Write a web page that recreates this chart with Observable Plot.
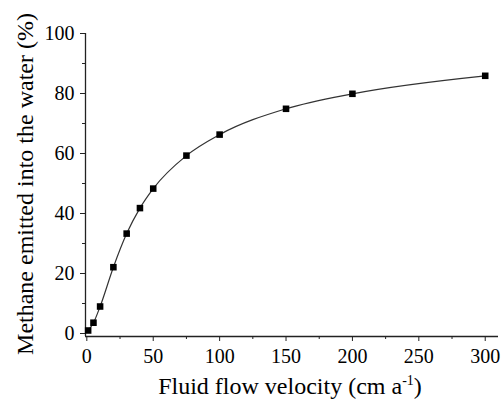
<!DOCTYPE html>
<html>
<head>
<meta charset="utf-8">
<script src="https://cdn.jsdelivr.net/npm/d3@7"></script>
<script src="https://cdn.jsdelivr.net/npm/@observablehq/plot@0.6"></script>
<style>
  html, body { margin: 0; padding: 0; background: #fff; }
  #chart svg { display: block; }
</style>
</head>
<body>
<div id="chart"></div>
<script>
const velocity = [1, 5, 10, 20, 30, 40, 50, 75, 100, 150, 200, 300];
const methane = [1.0, 3.6, 9.0, 22.1, 33.3, 41.8, 48.3, 59.3, 66.3, 74.9, 79.9, 85.9];
const xMajorTicks = [0, 50, 100, 150, 200, 250, 300];
const xMinorTicks = [25, 75, 125, 175, 225, 275];
const yMajorTicks = [0, 20, 40, 60, 80, 100];
const yMinorTicks = [10, 30, 50, 70, 90];
const xLabel = "Fluid flow velocity (cm a";
const xLabelSup = "-1";
const yLabel = "Methane emitted into the water (%)";

const data = velocity.map((v, i) => ({x: v, y: methane[i]}));
const font = "Times New Roman";

const chart = Plot.plot({
  width: 501,
  height: 399,
  marginLeft: 85,
  marginRight: 3,
  marginTop: 33,
  marginBottom: 63,
  style: {fontFamily: font, fontSize: "20px", color: "#000", background: "#fff"},
  x: {domain: [-1, 310]},
  y: {domain: [-1, 100]},
  marks: [
    Plot.ruleX([-1], {stroke: "#222", strokeWidth: 1.3}),
    Plot.ruleY([-1], {stroke: "#222", strokeWidth: 1.3}),
    Plot.axisX({ticks: xMajorTicks, tickSize: 5, tickPadding: 7, tickFormat: d => String(d), label: null, stroke: "#222", fontSize: 20}),
    Plot.axisX({ticks: xMinorTicks, tickSize: 3, text: null, label: null, stroke: "#222"}),
    Plot.axisY({ticks: yMajorTicks, tickSize: 5, tickPadding: 6, tickFormat: d => String(d), label: null, stroke: "#222", fontSize: 20}),
    Plot.axisY({ticks: yMinorTicks, tickSize: 3, text: null, label: null, stroke: "#222"}),
    Plot.line(data, {x: "x", y: "y", curve: "monotone-x", stroke: "#333", strokeWidth: 1.2}),
    Plot.dot(data, {x: "x", y: "y", symbol: "square", r: 3.7, fill: "#000", stroke: "none"})
  ]
});

document.getElementById("chart").appendChild(chart);

const svg = d3.select(chart);
const xt = svg.append("text")
  .attr("x", 290)
  .attr("y", 394)
  .attr("text-anchor", "middle")
  .attr("font-family", font)
  .attr("font-size", 24)
  .attr("fill", "#000");
xt.append("tspan").text(xLabel);
xt.append("tspan").attr("dy", -9).attr("font-size", 14).text(xLabelSup);
xt.append("tspan").attr("dy", 9).text(")");

svg.append("text")
  .attr("transform", "translate(33,184) rotate(-90)")
  .attr("text-anchor", "middle")
  .attr("font-family", font)
  .attr("font-size", 24)
  .attr("fill", "#000")
  .text(yLabel);
</script>
</body>
</html>
